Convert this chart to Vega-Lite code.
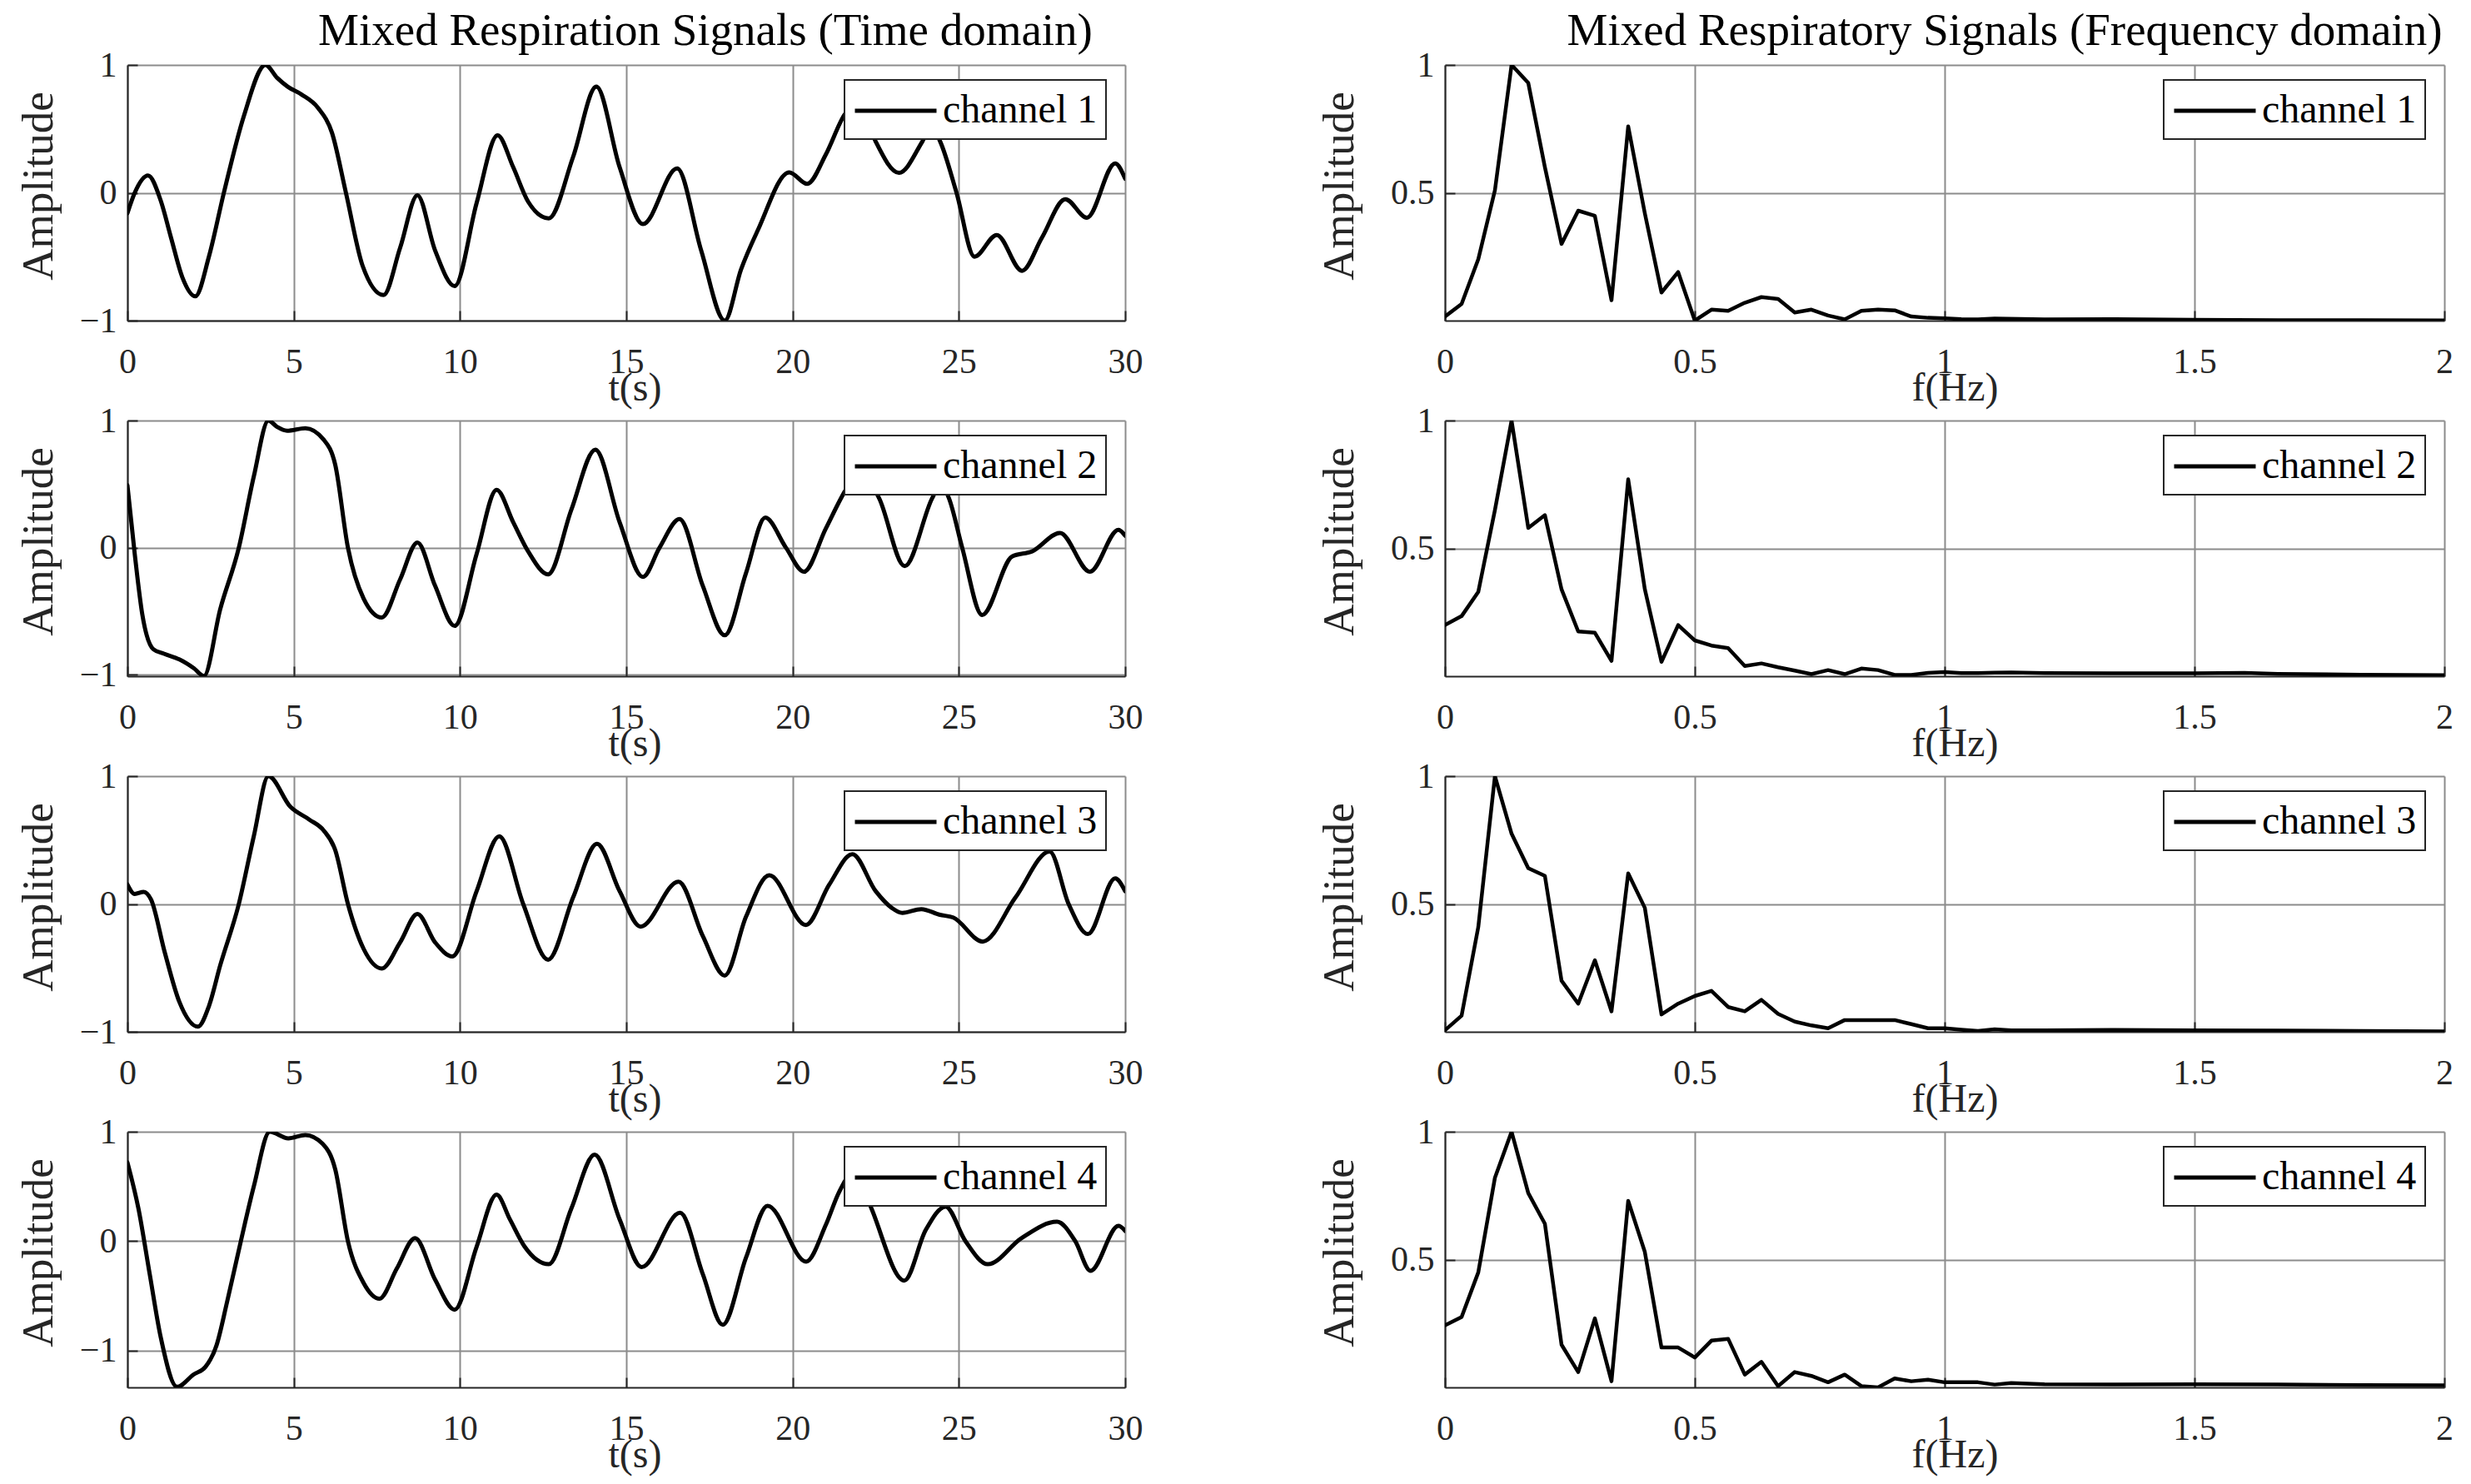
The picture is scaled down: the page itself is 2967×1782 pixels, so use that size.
{
"$schema": "https://vega.github.io/schema/vega-lite/v6.json",
"background": "white",
"padding": {"left": 20, "top": 10, "right": 10, "bottom": 5},
"datasets": {
"time": [
{"ch":"channel 1","t":0,"v":-0.16},{"ch":"channel 1","t":0.22,"v":0.0},{"ch":"channel 1","t":0.62,"v":0.135},{"ch":"channel 1","t":1.0,"v":-0.06},{"ch":"channel 1","t":1.31,"v":-0.35},{"ch":"channel 1","t":1.65,"v":-0.66},{"ch":"channel 1","t":2.04,"v":-0.81},{"ch":"channel 1","t":2.45,"v":-0.5},{"ch":"channel 1","t":2.9,"v":0.0},{"ch":"channel 1","t":3.5,"v":0.6},{"ch":"channel 1","t":4.15,"v":1.0},{"ch":"channel 1","t":4.5,"v":0.9},{"ch":"channel 1","t":4.82,"v":0.83},{"ch":"channel 1","t":5.23,"v":0.77},{"ch":"channel 1","t":5.73,"v":0.665},{"ch":"channel 1","t":6.15,"v":0.47},{"ch":"channel 1","t":6.57,"v":0.0},{"ch":"channel 1","t":7.07,"v":-0.57},{"ch":"channel 1","t":7.7,"v":-0.8},{"ch":"channel 1","t":8.2,"v":-0.43},{"ch":"channel 1","t":8.72,"v":-0.02},{"ch":"channel 1","t":9.25,"v":-0.45},{"ch":"channel 1","t":9.84,"v":-0.73},{"ch":"channel 1","t":10.5,"v":-0.08},{"ch":"channel 1","t":11.13,"v":0.45},{"ch":"channel 1","t":11.6,"v":0.2},{"ch":"channel 1","t":12.05,"v":-0.07},{"ch":"channel 1","t":12.67,"v":-0.2},{"ch":"channel 1","t":13.4,"v":0.28},{"ch":"channel 1","t":14.1,"v":0.83},{"ch":"channel 1","t":14.8,"v":0.2},{"ch":"channel 1","t":15.5,"v":-0.245},{"ch":"channel 1","t":16.53,"v":0.19},{"ch":"channel 1","t":17.25,"v":-0.45},{"ch":"channel 1","t":17.96,"v":-1.0},{"ch":"channel 1","t":18.45,"v":-0.6},{"ch":"channel 1","t":18.96,"v":-0.29},{"ch":"channel 1","t":19.9,"v":0.16},{"ch":"channel 1","t":20.44,"v":0.07},{"ch":"channel 1","t":21.0,"v":0.3},{"ch":"channel 1","t":21.56,"v":0.61},{"ch":"channel 1","t":22.0,"v":0.72},{"ch":"channel 1","t":22.5,"v":0.4},{"ch":"channel 1","t":23.2,"v":0.156},{"ch":"channel 1","t":23.9,"v":0.4},{"ch":"channel 1","t":24.17,"v":0.52},{"ch":"channel 1","t":24.44,"v":0.4},{"ch":"channel 1","t":24.93,"v":0.0},{"ch":"channel 1","t":25.47,"v":-0.5},{"ch":"channel 1","t":26.14,"v":-0.33},{"ch":"channel 1","t":26.9,"v":-0.61},{"ch":"channel 1","t":27.5,"v":-0.35},{"ch":"channel 1","t":28.2,"v":-0.05},{"ch":"channel 1","t":28.85,"v":-0.195},{"ch":"channel 1","t":29.7,"v":0.23},{"ch":"channel 1","t":30,"v":0.11},
{"ch":"channel 2","t":0,"v":0.49},{"ch":"channel 2","t":0.22,"v":-0.05},{"ch":"channel 2","t":0.45,"v":-0.53},{"ch":"channel 2","t":0.78,"v":-0.8},{"ch":"channel 2","t":1.1,"v":-0.835},{"ch":"channel 2","t":1.56,"v":-0.88},{"ch":"channel 2","t":2.0,"v":-0.95},{"ch":"channel 2","t":2.3,"v":-1.01},{"ch":"channel 2","t":2.79,"v":-0.485},{"ch":"channel 2","t":3.35,"v":0.0},{"ch":"channel 2","t":3.8,"v":0.56},{"ch":"channel 2","t":4.24,"v":1.0},{"ch":"channel 2","t":4.5,"v":0.95},{"ch":"channel 2","t":4.8,"v":0.92},{"ch":"channel 2","t":5.35,"v":0.94},{"ch":"channel 2","t":5.9,"v":0.85},{"ch":"channel 2","t":6.25,"v":0.65},{"ch":"channel 2","t":6.63,"v":0.0},{"ch":"channel 2","t":7.1,"v":-0.4},{"ch":"channel 2","t":7.65,"v":-0.55},{"ch":"channel 2","t":8.2,"v":-0.25},{"ch":"channel 2","t":8.72,"v":0.04},{"ch":"channel 2","t":9.25,"v":-0.3},{"ch":"channel 2","t":9.84,"v":-0.616},{"ch":"channel 2","t":10.5,"v":-0.05},{"ch":"channel 2","t":11.1,"v":0.455},{"ch":"channel 2","t":11.6,"v":0.2},{"ch":"channel 2","t":12.05,"v":-0.03},{"ch":"channel 2","t":12.65,"v":-0.21},{"ch":"channel 2","t":13.35,"v":0.3},{"ch":"channel 2","t":14.07,"v":0.77},{"ch":"channel 2","t":14.8,"v":0.2},{"ch":"channel 2","t":15.5,"v":-0.23},{"ch":"channel 2","t":16.0,"v":0.0},{"ch":"channel 2","t":16.6,"v":0.225},{"ch":"channel 2","t":17.3,"v":-0.3},{"ch":"channel 2","t":17.96,"v":-0.69},{"ch":"channel 2","t":18.6,"v":-0.2},{"ch":"channel 2","t":19.18,"v":0.236},{"ch":"channel 2","t":19.8,"v":0.0},{"ch":"channel 2","t":20.34,"v":-0.19},{"ch":"channel 2","t":21.0,"v":0.15},{"ch":"channel 2","t":21.6,"v":0.455},{"ch":"channel 2","t":22.0,"v":0.6},{"ch":"channel 2","t":22.6,"v":0.39},{"ch":"channel 2","t":23.37,"v":-0.146},{"ch":"channel 2","t":24.2,"v":0.39},{"ch":"channel 2","t":24.45,"v":0.5},{"ch":"channel 2","t":24.7,"v":0.39},{"ch":"channel 2","t":25.1,"v":0.0},{"ch":"channel 2","t":25.7,"v":-0.53},{"ch":"channel 2","t":26.6,"v":-0.07},{"ch":"channel 2","t":27.2,"v":-0.03},{"ch":"channel 2","t":28.04,"v":0.116},{"ch":"channel 2","t":28.94,"v":-0.19},{"ch":"channel 2","t":29.8,"v":0.14},{"ch":"channel 2","t":30,"v":0.094},
{"ch":"channel 3","t":0,"v":0.153},{"ch":"channel 3","t":0.22,"v":0.078},{"ch":"channel 3","t":0.49,"v":0.095},{"ch":"channel 3","t":0.71,"v":0.035},{"ch":"channel 3","t":1.12,"v":-0.376},{"ch":"channel 3","t":1.56,"v":-0.765},{"ch":"channel 3","t":2.12,"v":-0.96},{"ch":"channel 3","t":2.45,"v":-0.8},{"ch":"channel 3","t":2.79,"v":-0.48},{"ch":"channel 3","t":3.35,"v":0.0},{"ch":"channel 3","t":3.8,"v":0.53},{"ch":"channel 3","t":4.24,"v":1.0},{"ch":"channel 3","t":4.9,"v":0.76},{"ch":"channel 3","t":5.47,"v":0.66},{"ch":"channel 3","t":5.9,"v":0.575},{"ch":"channel 3","t":6.25,"v":0.42},{"ch":"channel 3","t":6.63,"v":0.0},{"ch":"channel 3","t":7.1,"v":-0.35},{"ch":"channel 3","t":7.65,"v":-0.505},{"ch":"channel 3","t":8.2,"v":-0.3},{"ch":"channel 3","t":8.72,"v":-0.078},{"ch":"channel 3","t":9.25,"v":-0.3},{"ch":"channel 3","t":9.77,"v":-0.41},{"ch":"channel 3","t":10.5,"v":0.1},{"ch":"channel 3","t":11.18,"v":0.53},{"ch":"channel 3","t":11.9,"v":0.0},{"ch":"channel 3","t":12.65,"v":-0.436},{"ch":"channel 3","t":13.4,"v":0.05},{"ch":"channel 3","t":14.12,"v":0.47},{"ch":"channel 3","t":14.8,"v":0.1},{"ch":"channel 3","t":15.43,"v":-0.177},{"ch":"channel 3","t":16.57,"v":0.175},{"ch":"channel 3","t":17.3,"v":-0.25},{"ch":"channel 3","t":17.96,"v":-0.56},{"ch":"channel 3","t":18.6,"v":-0.1},{"ch":"channel 3","t":19.3,"v":0.225},{"ch":"channel 3","t":20.4,"v":-0.164},{"ch":"channel 3","t":21.1,"v":0.15},{"ch":"channel 3","t":21.8,"v":0.39},{"ch":"channel 3","t":22.5,"v":0.1},{"ch":"channel 3","t":22.98,"v":-0.03},{"ch":"channel 3","t":23.3,"v":-0.07},{"ch":"channel 3","t":23.87,"v":-0.04},{"ch":"channel 3","t":24.43,"v":-0.085},{"ch":"channel 3","t":24.83,"v":-0.106},{"ch":"channel 3","t":25.72,"v":-0.294},{"ch":"channel 3","t":26.7,"v":0.05},{"ch":"channel 3","t":27.73,"v":0.41},{"ch":"channel 3","t":28.3,"v":0.0},{"ch":"channel 3","t":28.88,"v":-0.235},{"ch":"channel 3","t":29.7,"v":0.2},{"ch":"channel 3","t":30,"v":0.1},
{"ch":"channel 4","t":0,"v":0.72},{"ch":"channel 4","t":0.33,"v":0.3},{"ch":"channel 4","t":0.67,"v":-0.3},{"ch":"channel 4","t":1.0,"v":-0.875},{"ch":"channel 4","t":1.49,"v":-1.33},{"ch":"channel 4","t":2.0,"v":-1.215},{"ch":"channel 4","t":2.34,"v":-1.15},{"ch":"channel 4","t":2.68,"v":-0.95},{"ch":"channel 4","t":3.0,"v":-0.55},{"ch":"channel 4","t":3.41,"v":0.0},{"ch":"channel 4","t":3.8,"v":0.5},{"ch":"channel 4","t":4.28,"v":1.0},{"ch":"channel 4","t":4.84,"v":0.94},{"ch":"channel 4","t":5.35,"v":0.97},{"ch":"channel 4","t":5.87,"v":0.89},{"ch":"channel 4","t":6.25,"v":0.655},{"ch":"channel 4","t":6.63,"v":0.0},{"ch":"channel 4","t":7.1,"v":-0.38},{"ch":"channel 4","t":7.58,"v":-0.525},{"ch":"channel 4","t":8.1,"v":-0.25},{"ch":"channel 4","t":8.65,"v":0.028},{"ch":"channel 4","t":9.25,"v":-0.35},{"ch":"channel 4","t":9.84,"v":-0.625},{"ch":"channel 4","t":10.5,"v":-0.05},{"ch":"channel 4","t":11.1,"v":0.425},{"ch":"channel 4","t":11.5,"v":0.2},{"ch":"channel 4","t":11.94,"v":-0.048},{"ch":"channel 4","t":12.67,"v":-0.21},{"ch":"channel 4","t":13.35,"v":0.3},{"ch":"channel 4","t":14.05,"v":0.79},{"ch":"channel 4","t":14.8,"v":0.2},{"ch":"channel 4","t":15.46,"v":-0.236},{"ch":"channel 4","t":16.62,"v":0.26},{"ch":"channel 4","t":17.3,"v":-0.3},{"ch":"channel 4","t":17.9,"v":-0.763},{"ch":"channel 4","t":18.6,"v":-0.15},{"ch":"channel 4","t":19.25,"v":0.324},{"ch":"channel 4","t":20.41,"v":-0.186},{"ch":"channel 4","t":21.0,"v":0.15},{"ch":"channel 4","t":21.4,"v":0.45},{"ch":"channel 4","t":21.9,"v":0.65},{"ch":"channel 4","t":22.37,"v":0.3},{"ch":"channel 4","t":23.36,"v":-0.36},{"ch":"channel 4","t":24.0,"v":0.1},{"ch":"channel 4","t":24.6,"v":0.316},{"ch":"channel 4","t":25.2,"v":0.0},{"ch":"channel 4","t":25.87,"v":-0.21},{"ch":"channel 4","t":26.88,"v":0.028},{"ch":"channel 4","t":27.95,"v":0.178},{"ch":"channel 4","t":28.5,"v":0.0},{"ch":"channel 4","t":28.96,"v":-0.27},{"ch":"channel 4","t":29.8,"v":0.14},{"ch":"channel 4","t":30,"v":0.095}
],
"freq": [
{"ch":"channel 1","f":0,"a":0.016},{"ch":"channel 1","f":0.0333,"a":0.065},{"ch":"channel 1","f":0.0667,"a":0.24},{"ch":"channel 1","f":0.1,"a":0.51},{"ch":"channel 1","f":0.1333,"a":1.0},{"ch":"channel 1","f":0.1667,"a":0.93},{"ch":"channel 1","f":0.2,"a":0.6},{"ch":"channel 1","f":0.2333,"a":0.3},{"ch":"channel 1","f":0.2667,"a":0.43},{"ch":"channel 1","f":0.3,"a":0.41},{"ch":"channel 1","f":0.3333,"a":0.08},{"ch":"channel 1","f":0.3667,"a":0.76},{"ch":"channel 1","f":0.4,"a":0.42},{"ch":"channel 1","f":0.4333,"a":0.11},{"ch":"channel 1","f":0.4667,"a":0.19},{"ch":"channel 1","f":0.5,"a":0.0},{"ch":"channel 1","f":0.5333,"a":0.043},{"ch":"channel 1","f":0.5667,"a":0.038},{"ch":"channel 1","f":0.6,"a":0.07},{"ch":"channel 1","f":0.6333,"a":0.092},{"ch":"channel 1","f":0.6667,"a":0.085},{"ch":"channel 1","f":0.7,"a":0.032},{"ch":"channel 1","f":0.7333,"a":0.043},{"ch":"channel 1","f":0.7667,"a":0.02},{"ch":"channel 1","f":0.8,"a":0.005},{"ch":"channel 1","f":0.8333,"a":0.038},{"ch":"channel 1","f":0.8667,"a":0.043},{"ch":"channel 1","f":0.9,"a":0.04},{"ch":"channel 1","f":0.9333,"a":0.016},{"ch":"channel 1","f":0.9667,"a":0.011},{"ch":"channel 1","f":1.0,"a":0.009},{"ch":"channel 1","f":1.0333,"a":0.006},{"ch":"channel 1","f":1.0667,"a":0.005},{"ch":"channel 1","f":1.1,"a":0.008},{"ch":"channel 1","f":1.2,"a":0.005},{"ch":"channel 1","f":1.3333,"a":0.006},{"ch":"channel 1","f":1.5,"a":0.003},{"ch":"channel 1","f":1.6667,"a":0.002},{"ch":"channel 1","f":1.8333,"a":0.002},{"ch":"channel 1","f":2.0,"a":0.001},
{"ch":"channel 2","f":0,"a":0.2},{"ch":"channel 2","f":0.0333,"a":0.235},{"ch":"channel 2","f":0.0667,"a":0.33},{"ch":"channel 2","f":0.1,"a":0.65},{"ch":"channel 2","f":0.1333,"a":1.0},{"ch":"channel 2","f":0.1667,"a":0.58},{"ch":"channel 2","f":0.2,"a":0.63},{"ch":"channel 2","f":0.2333,"a":0.34},{"ch":"channel 2","f":0.2667,"a":0.175},{"ch":"channel 2","f":0.3,"a":0.17},{"ch":"channel 2","f":0.3333,"a":0.06},{"ch":"channel 2","f":0.3667,"a":0.77},{"ch":"channel 2","f":0.4,"a":0.34},{"ch":"channel 2","f":0.4333,"a":0.056},{"ch":"channel 2","f":0.4667,"a":0.2},{"ch":"channel 2","f":0.5,"a":0.14},{"ch":"channel 2","f":0.5333,"a":0.12},{"ch":"channel 2","f":0.5667,"a":0.11},{"ch":"channel 2","f":0.6,"a":0.04},{"ch":"channel 2","f":0.6333,"a":0.05},{"ch":"channel 2","f":0.6667,"a":0.035},{"ch":"channel 2","f":0.7,"a":0.022},{"ch":"channel 2","f":0.7333,"a":0.008},{"ch":"channel 2","f":0.7667,"a":0.024},{"ch":"channel 2","f":0.8,"a":0.008},{"ch":"channel 2","f":0.8333,"a":0.03},{"ch":"channel 2","f":0.8667,"a":0.024},{"ch":"channel 2","f":0.9,"a":0.005},{"ch":"channel 2","f":0.9333,"a":0.005},{"ch":"channel 2","f":0.9667,"a":0.013},{"ch":"channel 2","f":1.0,"a":0.016},{"ch":"channel 2","f":1.0333,"a":0.012},{"ch":"channel 2","f":1.0667,"a":0.012},{"ch":"channel 2","f":1.1,"a":0.014},{"ch":"channel 2","f":1.1333,"a":0.015},{"ch":"channel 2","f":1.2,"a":0.012},{"ch":"channel 2","f":1.3333,"a":0.011},{"ch":"channel 2","f":1.5,"a":0.011},{"ch":"channel 2","f":1.6,"a":0.013},{"ch":"channel 2","f":1.6667,"a":0.009},{"ch":"channel 2","f":1.8333,"a":0.006},{"ch":"channel 2","f":2.0,"a":0.004},
{"ch":"channel 3","f":0,"a":0.006},{"ch":"channel 3","f":0.0333,"a":0.063},{"ch":"channel 3","f":0.0667,"a":0.41},{"ch":"channel 3","f":0.1,"a":1.0},{"ch":"channel 3","f":0.1333,"a":0.775},{"ch":"channel 3","f":0.1667,"a":0.64},{"ch":"channel 3","f":0.2,"a":0.61},{"ch":"channel 3","f":0.2333,"a":0.2},{"ch":"channel 3","f":0.2667,"a":0.11},{"ch":"channel 3","f":0.3,"a":0.28},{"ch":"channel 3","f":0.3333,"a":0.08},{"ch":"channel 3","f":0.3667,"a":0.62},{"ch":"channel 3","f":0.4,"a":0.485},{"ch":"channel 3","f":0.4333,"a":0.068},{"ch":"channel 3","f":0.4667,"a":0.11},{"ch":"channel 3","f":0.5,"a":0.14},{"ch":"channel 3","f":0.5333,"a":0.16},{"ch":"channel 3","f":0.5667,"a":0.097},{"ch":"channel 3","f":0.6,"a":0.08},{"ch":"channel 3","f":0.6333,"a":0.125},{"ch":"channel 3","f":0.6667,"a":0.07},{"ch":"channel 3","f":0.7,"a":0.04},{"ch":"channel 3","f":0.7333,"a":0.025},{"ch":"channel 3","f":0.7667,"a":0.014},{"ch":"channel 3","f":0.8,"a":0.046},{"ch":"channel 3","f":0.8333,"a":0.046},{"ch":"channel 3","f":0.8667,"a":0.046},{"ch":"channel 3","f":0.9,"a":0.046},{"ch":"channel 3","f":0.9333,"a":0.03},{"ch":"channel 3","f":0.9667,"a":0.014},{"ch":"channel 3","f":1.0,"a":0.014},{"ch":"channel 3","f":1.0333,"a":0.008},{"ch":"channel 3","f":1.0667,"a":0.003},{"ch":"channel 3","f":1.1,"a":0.01},{"ch":"channel 3","f":1.1333,"a":0.006},{"ch":"channel 3","f":1.2,"a":0.006},{"ch":"channel 3","f":1.3333,"a":0.007},{"ch":"channel 3","f":1.5,"a":0.006},{"ch":"channel 3","f":1.6667,"a":0.005},{"ch":"channel 3","f":1.8333,"a":0.003},{"ch":"channel 3","f":2.0,"a":0.002},
{"ch":"channel 4","f":0,"a":0.243},{"ch":"channel 4","f":0.0333,"a":0.275},{"ch":"channel 4","f":0.0667,"a":0.45},{"ch":"channel 4","f":0.1,"a":0.82},{"ch":"channel 4","f":0.1333,"a":1.0},{"ch":"channel 4","f":0.1667,"a":0.76},{"ch":"channel 4","f":0.2,"a":0.64},{"ch":"channel 4","f":0.2333,"a":0.167},{"ch":"channel 4","f":0.2667,"a":0.06},{"ch":"channel 4","f":0.3,"a":0.27},{"ch":"channel 4","f":0.3333,"a":0.024},{"ch":"channel 4","f":0.3667,"a":0.73},{"ch":"channel 4","f":0.4,"a":0.53},{"ch":"channel 4","f":0.4333,"a":0.156},{"ch":"channel 4","f":0.4667,"a":0.156},{"ch":"channel 4","f":0.5,"a":0.117},{"ch":"channel 4","f":0.5333,"a":0.183},{"ch":"channel 4","f":0.5667,"a":0.19},{"ch":"channel 4","f":0.6,"a":0.05},{"ch":"channel 4","f":0.6333,"a":0.1},{"ch":"channel 4","f":0.6667,"a":0.005},{"ch":"channel 4","f":0.7,"a":0.06},{"ch":"channel 4","f":0.7333,"a":0.045},{"ch":"channel 4","f":0.7667,"a":0.02},{"ch":"channel 4","f":0.8,"a":0.05},{"ch":"channel 4","f":0.8333,"a":0.005},{"ch":"channel 4","f":0.8667,"a":0.0},{"ch":"channel 4","f":0.9,"a":0.035},{"ch":"channel 4","f":0.9333,"a":0.024},{"ch":"channel 4","f":0.9667,"a":0.03},{"ch":"channel 4","f":1.0,"a":0.02},{"ch":"channel 4","f":1.0333,"a":0.02},{"ch":"channel 4","f":1.0667,"a":0.02},{"ch":"channel 4","f":1.1,"a":0.011},{"ch":"channel 4","f":1.1333,"a":0.017},{"ch":"channel 4","f":1.2,"a":0.012},{"ch":"channel 4","f":1.3333,"a":0.011},{"ch":"channel 4","f":1.5,"a":0.012},{"ch":"channel 4","f":1.6667,"a":0.011},{"ch":"channel 4","f":1.8333,"a":0.009},{"ch":"channel 4","f":2.0,"a":0.008}
]
},
"columns": 2,
"spacing": {"row": 120, "column": 384},
"bounds": "flush",
"resolve": {"scale": {"color": "independent"}, "legend": {"color": "independent"}},
"concat": [
 {"width": 1198, "height": 307, "data": {"name": "time"}, "transform": [{"filter": "datum.ch === 'channel 1'"}],
  "title": {"text": "Mixed Respiration Signals (Time domain)", "frame": "group", "anchor": "middle", "dx": 95, "offset": -52, "baseline": "alphabetic"},
  "mark": {"type": "line", "interpolate": "monotone", "strokeWidth": 5, "clip": true, "strokeJoin": "round", "strokeCap": "round"},
  "encoding": {
   "x": {"field": "t", "type": "quantitative", "scale": {"domain": [0, 30], "nice": false, "zero": false}, "axis": {"values": [0,5,10,15,20,25,30], "format": "~g", "title": "t(s)", "titleX": 609}},
   "y": {"field": "v", "type": "quantitative", "scale": {"domain": [-1, 1], "nice": false, "zero": false}, "axis": {"values": [-1,0,1], "format": "~g", "title": "Amplitude", "titleX": -91}},
   "color": {"field": "ch", "type": "nominal", "scale": {"range": ["#000000"]}, "legend": {"orient": "none", "legendX": 861, "legendY": 18, "title": null}}
  }},
 {"width": 1200, "height": 307, "data": {"name": "freq"}, "transform": [{"filter": "datum.ch === 'channel 1'"}],
  "title": {"text": "Mixed Respiratory Signals (Frequency domain)", "frame": "group", "anchor": "middle", "dx": 72, "offset": -52, "baseline": "alphabetic"},
  "mark": {"type": "line", "strokeWidth": 4.5, "clip": true, "strokeJoin": "round", "strokeCap": "round"},
  "encoding": {
   "x": {"field": "f", "type": "quantitative", "scale": {"domain": [0, 2], "nice": false, "zero": false}, "axis": {"values": [0,0.5,1,1.5,2], "format": "~g", "title": "f(Hz)", "titleX": 612}},
   "y": {"field": "a", "type": "quantitative", "scale": {"domain": [0, 1], "nice": false}, "axis": {"values": [0.5,1], "format": "~g", "title": "Amplitude", "titleX": -111}},
   "color": {"field": "ch", "type": "nominal", "scale": {"range": ["#000000"]}, "legend": {"orient": "none", "legendX": 863, "legendY": 18, "title": null}}
  }},
 {"width": 1198, "height": 307, "data": {"name": "time"}, "transform": [{"filter": "datum.ch === 'channel 2'"}],
  "mark": {"type": "line", "interpolate": "monotone", "strokeWidth": 5, "clip": true, "strokeJoin": "round", "strokeCap": "round"},
  "encoding": {
   "x": {"field": "t", "type": "quantitative", "scale": {"domain": [0, 30], "nice": false, "zero": false}, "axis": {"values": [0,5,10,15,20,25,30], "format": "~g", "title": "t(s)", "titleX": 609}},
   "y": {"field": "v", "type": "quantitative", "scale": {"domain": [-1.012, 1], "nice": false, "zero": false}, "axis": {"values": [-1,0,1], "format": "~g", "title": "Amplitude", "titleX": -91}},
   "color": {"field": "ch", "type": "nominal", "scale": {"range": ["#000000"]}, "legend": {"orient": "none", "legendX": 861, "legendY": 18, "title": null}}
  }},
 {"width": 1200, "height": 307, "data": {"name": "freq"}, "transform": [{"filter": "datum.ch === 'channel 2'"}],
  "mark": {"type": "line", "strokeWidth": 4.5, "clip": true, "strokeJoin": "round", "strokeCap": "round"},
  "encoding": {
   "x": {"field": "f", "type": "quantitative", "scale": {"domain": [0, 2], "nice": false, "zero": false}, "axis": {"values": [0,0.5,1,1.5,2], "format": "~g", "title": "f(Hz)", "titleX": 612}},
   "y": {"field": "a", "type": "quantitative", "scale": {"domain": [0, 1], "nice": false}, "axis": {"values": [0.5,1], "format": "~g", "title": "Amplitude", "titleX": -111}},
   "color": {"field": "ch", "type": "nominal", "scale": {"range": ["#000000"]}, "legend": {"orient": "none", "legendX": 863, "legendY": 18, "title": null}}
  }},
 {"width": 1198, "height": 307, "data": {"name": "time"}, "transform": [{"filter": "datum.ch === 'channel 3'"}],
  "mark": {"type": "line", "interpolate": "monotone", "strokeWidth": 5, "clip": true, "strokeJoin": "round", "strokeCap": "round"},
  "encoding": {
   "x": {"field": "t", "type": "quantitative", "scale": {"domain": [0, 30], "nice": false, "zero": false}, "axis": {"values": [0,5,10,15,20,25,30], "format": "~g", "title": "t(s)", "titleX": 609}},
   "y": {"field": "v", "type": "quantitative", "scale": {"domain": [-1, 1], "nice": false, "zero": false}, "axis": {"values": [-1,0,1], "format": "~g", "title": "Amplitude", "titleX": -91}},
   "color": {"field": "ch", "type": "nominal", "scale": {"range": ["#000000"]}, "legend": {"orient": "none", "legendX": 861, "legendY": 18, "title": null}}
  }},
 {"width": 1200, "height": 307, "data": {"name": "freq"}, "transform": [{"filter": "datum.ch === 'channel 3'"}],
  "mark": {"type": "line", "strokeWidth": 4.5, "clip": true, "strokeJoin": "round", "strokeCap": "round"},
  "encoding": {
   "x": {"field": "f", "type": "quantitative", "scale": {"domain": [0, 2], "nice": false, "zero": false}, "axis": {"values": [0,0.5,1,1.5,2], "format": "~g", "title": "f(Hz)", "titleX": 612}},
   "y": {"field": "a", "type": "quantitative", "scale": {"domain": [0, 1], "nice": false}, "axis": {"values": [0.5,1], "format": "~g", "title": "Amplitude", "titleX": -111}},
   "color": {"field": "ch", "type": "nominal", "scale": {"range": ["#000000"]}, "legend": {"orient": "none", "legendX": 863, "legendY": 18, "title": null}}
  }},
 {"width": 1198, "height": 307, "data": {"name": "time"}, "transform": [{"filter": "datum.ch === 'channel 4'"}],
  "mark": {"type": "line", "interpolate": "monotone", "strokeWidth": 5, "clip": true, "strokeJoin": "round", "strokeCap": "round"},
  "encoding": {
   "x": {"field": "t", "type": "quantitative", "scale": {"domain": [0, 30], "nice": false, "zero": false}, "axis": {"values": [0,5,10,15,20,25,30], "format": "~g", "title": "t(s)", "titleX": 609}},
   "y": {"field": "v", "type": "quantitative", "scale": {"domain": [-1.335, 1], "nice": false, "zero": false}, "axis": {"values": [-1,0,1], "format": "~g", "title": "Amplitude", "titleX": -91}},
   "color": {"field": "ch", "type": "nominal", "scale": {"range": ["#000000"]}, "legend": {"orient": "none", "legendX": 861, "legendY": 18, "title": null}}
  }},
 {"width": 1200, "height": 307, "data": {"name": "freq"}, "transform": [{"filter": "datum.ch === 'channel 4'"}],
  "mark": {"type": "line", "strokeWidth": 4.5, "clip": true, "strokeJoin": "round", "strokeCap": "round"},
  "encoding": {
   "x": {"field": "f", "type": "quantitative", "scale": {"domain": [0, 2], "nice": false, "zero": false}, "axis": {"values": [0,0.5,1,1.5,2], "format": "~g", "title": "f(Hz)", "titleX": 612}},
   "y": {"field": "a", "type": "quantitative", "scale": {"domain": [0, 1], "nice": false}, "axis": {"values": [0.5,1], "format": "~g", "title": "Amplitude", "titleX": -111}},
   "color": {"field": "ch", "type": "nominal", "scale": {"range": ["#000000"]}, "legend": {"orient": "none", "legendX": 863, "legendY": 18, "title": null}}
  }}
],
"config": {
 "view": {"stroke": null},
 "font": "Liberation Serif",
 "title": {"font": "Liberation Serif", "fontSize": 55, "fontWeight": "normal", "color": "#000000"},
 "axis": {"labelFont": "Liberation Serif", "titleFont": "Liberation Serif", "labelFontSize": 42, "titleFontWeight": "normal", "labelColor": "#262626", "titleColor": "#262626", "grid": true, "gridColor": "#8c8c8c", "gridWidth": 2, "domainColor": "#262626", "domainWidth": 2, "ticks": true, "tickSize": -12, "tickColor": "#262626", "tickWidth": 2, "labelFlush": false, "labelOverlap": false},
 "axisX": {"labelBaseline": "alphabetic", "labelPadding": 74, "titleFontSize": 48, "titleBaseline": "alphabetic", "titleY": 95},
 "axisY": {"labelPadding": 25, "titleFontSize": 53, "titleBaseline": "alphabetic", "titleY": 145},
 "legend": {"fillColor": "white", "strokeColor": "#262626", "strokeWidth": 2, "padding": 10, "labelFont": "Liberation Serif", "labelFontSize": 48, "labelLimit": 500, "labelColor": "#000000", "symbolType": "M-1,0H3", "symbolSize": 2401, "symbolStrokeWidth": 5, "labelOffset": 54}
}
}
